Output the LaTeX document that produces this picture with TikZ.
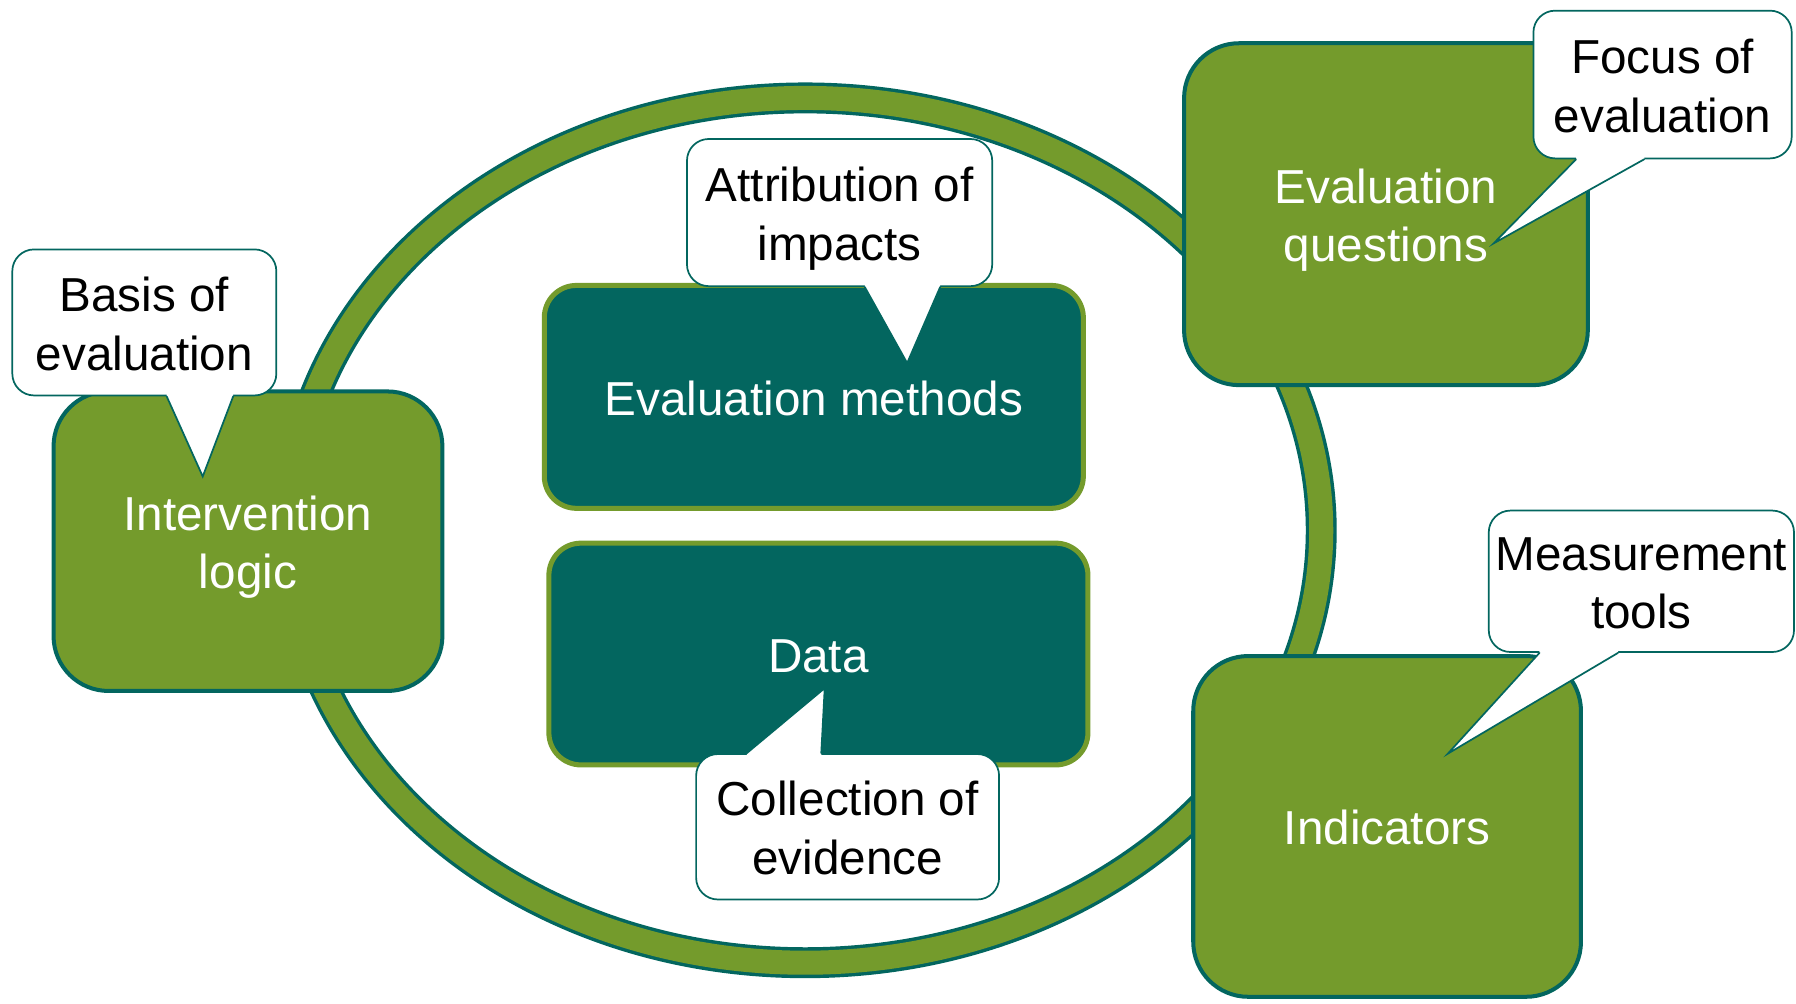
\documentclass[tikz,border=0pt]{standalone}
\usepackage{fontspec}
\setmainfont{Liberation Sans}
\usepackage{tikz}
\definecolor{leaf}{HTML}{749B2C}
\definecolor{pine}{HTML}{03665F}
\newcommand{\headstrut}{\rule{0pt}{20.5pt}}
\tikzset{>=latex}
\usetikzlibrary{shapes,arrows}
\usetikzlibrary{calc}

\begin{document}
\begin{tikzpicture}[line cap=round,line join=round,x=1pt,y=-1pt,
		every node/.style={font=\fontsize{20.8}{25.5}\selectfont,align=center,inner sep=2pt,
			execute at end node={\rule[-4.4pt]{0pt}{4.4pt}}},
		greenbox/.style={draw=pine,fill=leaf,line width=1.75pt,rounded corners=24pt,text=white},
		tealbox/.style={draw=leaf,fill=pine,line width=2.2pt,rounded corners=14pt,text=white},
		talk/.style={draw=pine,fill=white,line width=0.75pt,rounded corners=9.5pt,text=black},
		tail/.style={draw=pine,line width=0.75pt,line join=miter}]
			\useasboundingbox (0,0) rectangle (784,438);
			\draw[draw=pine,line width=1.5pt,double=leaf,double distance=10.5pt] (351.5,231.5) ellipse [x radius=225.25,y radius=188.75];
			\node[greenbox,minimum width=169.75pt,minimum height=130.75pt] (intv) at (108.25,236.25) {\headstrut Intervention\\logic};
			\node[tealbox,minimum width=235.3pt,minimum height=97.3pt] (meth) at (355.25,173.25) {\headstrut Evaluation methods};
			\node[tealbox,minimum width=235.3pt,minimum height=96.8pt] (data) at (357.25,285.5) {\headstrut Data};
			\node[greenbox,minimum width=176.25pt,minimum height=149.25pt] (qst) at (605,93.5) {\headstrut Evaluation\\questions};
			\node[greenbox,minimum width=169.25pt,minimum height=148.75pt] (ind) at (605.5,360.75) {\headstrut Indicators};
			\node[talk,minimum width=115.25pt,minimum height=63.75pt] (basis) at (63,140.75) {\headstrut Basis of\\evaluation};
			\coordinate (basistip) at (88.5,208);
			\fill[white] ([xshift=9.75pt,yshift=1pt]basis.south) -- ([xshift=9.75pt]basis.south) -- (basistip) -- ([xshift=38.8pt]basis.south) -- ([xshift=38.8pt,yshift=1pt]basis.south) -- cycle;
			\draw[tail] ([xshift=9.75pt]basis.south) -- (basistip) -- ([xshift=38.8pt]basis.south);
			\node[talk,minimum width=133.25pt,minimum height=64.25pt] (attr) at (366.5,92.8) {\headstrut Attribution of\\impacts};
			\coordinate (attrtip) at (396,158.5);
			\fill[white] ([xshift=11pt,yshift=1pt]attr.south) -- ([xshift=11pt]attr.south) -- (attrtip) -- ([xshift=43.9pt]attr.south) -- ([xshift=43.9pt,yshift=1pt]attr.south) -- cycle;
			\draw[tail] ([xshift=11pt]attr.south) -- (attrtip) -- ([xshift=43.9pt]attr.south);
			\node[talk,minimum width=132.25pt,minimum height=63.5pt] (coll) at (370,360.9) {\headstrut Collection of\\evidence};
			\coordinate (colltip) at (360,300.4);
			\fill[white] ([xshift=-44pt,yshift=-1pt]coll.north) -- ([xshift=-44pt]coll.north) -- (colltip) -- ([xshift=-11.5pt]coll.north) -- ([xshift=-11.5pt,yshift=-1pt]coll.north) -- cycle;
			\draw[tail] ([xshift=-44pt]coll.north) -- (colltip) -- ([xshift=-11.5pt]coll.north);
			\node[talk,minimum width=112.75pt,minimum height=64.5pt] (focus) at (725.75,36.9) {\headstrut Focus of\\evaluation};
			\coordinate (focustip) at (652,106.25);
			\fill[white] ([xshift=-37.75pt,yshift=1pt]focus.south) -- ([xshift=-37.75pt]focus.south) -- (focustip) -- ([xshift=-8pt]focus.south) -- ([xshift=-8pt,yshift=1pt]focus.south) -- cycle;
			\draw[tail] ([xshift=-37.75pt]focus.south) -- (focustip) -- ([xshift=-8pt]focus.south);
			\node[talk,minimum width=133.25pt,minimum height=61.75pt] (meas) at (716.5,253.75) {\headstrut Measurement\\tools};
			\coordinate (meastip) at (632,329);
			\fill[white] ([xshift=-44.5pt,yshift=1pt]meas.south) -- ([xshift=-44.5pt]meas.south) -- (meastip) -- ([xshift=-10.2pt]meas.south) -- ([xshift=-10.2pt,yshift=1pt]meas.south) -- cycle;
			\draw[tail] ([xshift=-44.5pt]meas.south) -- (meastip) -- ([xshift=-10.2pt]meas.south);
		\end{tikzpicture}
\end{document}
